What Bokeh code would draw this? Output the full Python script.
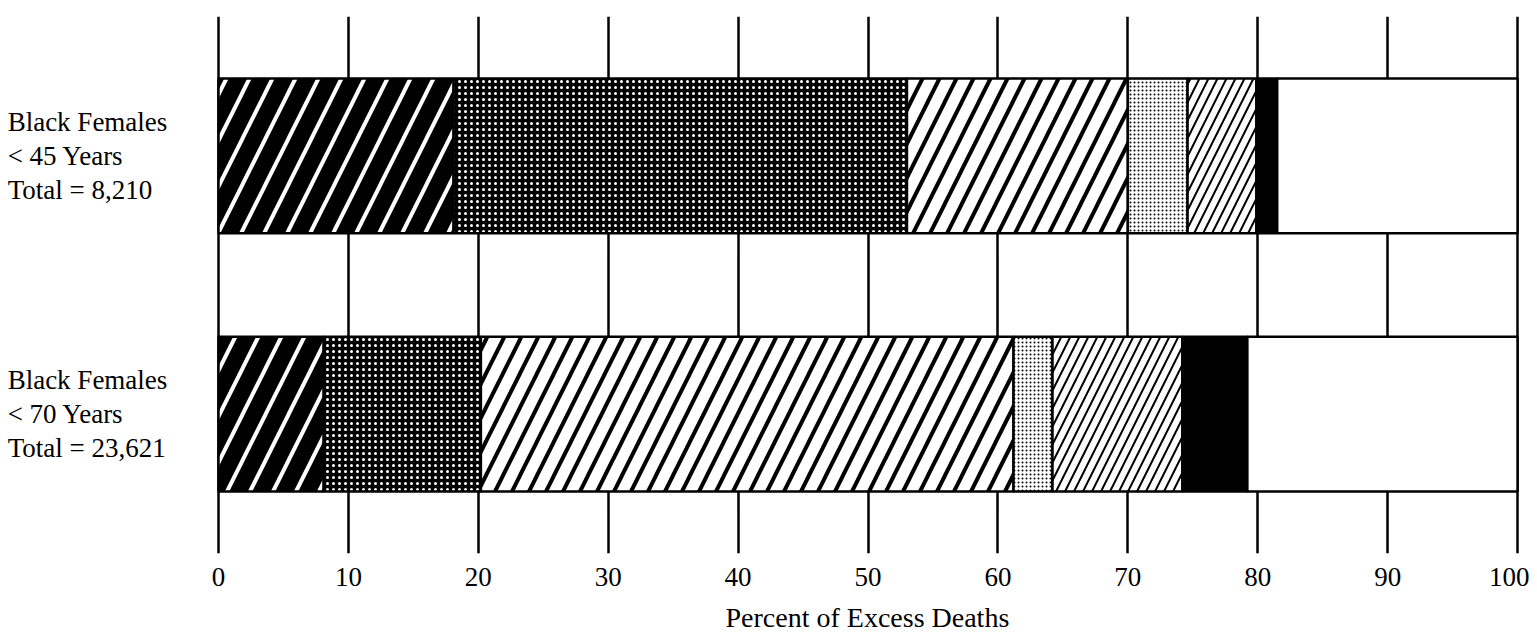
from bokeh.plotting import figure
from bokeh.models import Range1d, FactorRange, FixedTicker, ColumnDataSource, Title
from bokeh.core.properties import value
from bokeh.embed import file_html
from bokeh.resources import INLINE

# ---- data ----
categories = ["Black Females\n< 45 Years\nTotal = 8,210",
              "Black Females\n< 70 Years\nTotal = 23,621"]
seg_1 = [18.1, 8.1]
seg_2 = [34.9, 12.1]
seg_3 = [17.0, 41.0]
seg_4 = [4.6, 3.0]
seg_5 = [5.3, 10.0]
seg_6 = [1.6, 5.0]
seg_7 = [18.5, 20.8]
x_ticks = [0, 10, 20, 30, 40, 50, 60, 70, 80, 90, 100]
x_title = "Percent of Excess Deaths"

segments = ["seg_1", "seg_2", "seg_3", "seg_4", "seg_5", "seg_6", "seg_7"]
source = ColumnDataSource(data=dict(cat=categories, seg_1=seg_1, seg_2=seg_2, seg_3=seg_3,
                                    seg_4=seg_4, seg_5=seg_5, seg_6=seg_6, seg_7=seg_7))

# ---- styles ----
fills = ["black", "black", "white", "white", "white", "black", "white"]
hatches = ["/", ".", "/", ".", "/", " ", " "]
hatch_colors = ["white", "white", "black", "black", "black", "black", "black"]
hatch_scales = [46, 6, 34, 4, 18, 12, 12]
hatch_weights = [4, 1, 4, 1, 2, 1, 1]

FONT = "Liberation Serif"

# the frame extends to the left edge so the row labels can be drawn inside it
x_start = -16.78
factors = list(reversed(categories))
p = figure(
    x_range=Range1d(x_start, 100.15),
    y_range=FactorRange(factors=factors, range_padding=0.04,
                        range_padding_units="absolute"),
    frame_width=1519, frame_height=537,
    min_border_left=0, min_border_right=10, min_border_top=16, min_border_bottom=40,
    output_backend="svg", toolbar_location=None,
)

p.hbar_stack(segments, y="cat", height=0.6, source=source,
             fill_color=fills, hatch_pattern=hatches, hatch_color=hatch_colors,
             hatch_scale=hatch_scales, hatch_weight=hatch_weights,
             line_color="black", line_width=2.5)

# row labels (left aligned near the left edge)
p.text(x=[x_start + 0.55] * len(categories), y=categories, text=categories,
       text_font=value(FONT), text_font_size="27px", text_color="black",
       text_align="left", text_baseline="middle", text_line_height=1.12)

p.outline_line_color = None
p.background_fill_color = "white"
p.border_fill_color = "white"
p.yaxis.visible = False
p.ygrid.visible = False

p.xgrid.ticker = FixedTicker(ticks=x_ticks)
p.xgrid.grid_line_color = "black"
p.xgrid.grid_line_width = 2.5

xa = p.xaxis[0]
xa.ticker = FixedTicker(ticks=x_ticks)
xa.axis_line_color = None
xa.major_tick_line_color = None
xa.minor_tick_line_color = None
xa.major_label_text_font = FONT
xa.major_label_text_font_size = "27px"
xa.major_label_text_color = "black"
xa.major_label_standoff = 8

# axis title, centred under the 0-100 scale
p.add_layout(Title(text=x_title, align="left", offset=725, standoff=22,
                   text_font=FONT, text_font_size="28px", text_font_style="normal",
                   text_color="black"), "below")

open("out.html", "w").write(file_html(p, INLINE))
